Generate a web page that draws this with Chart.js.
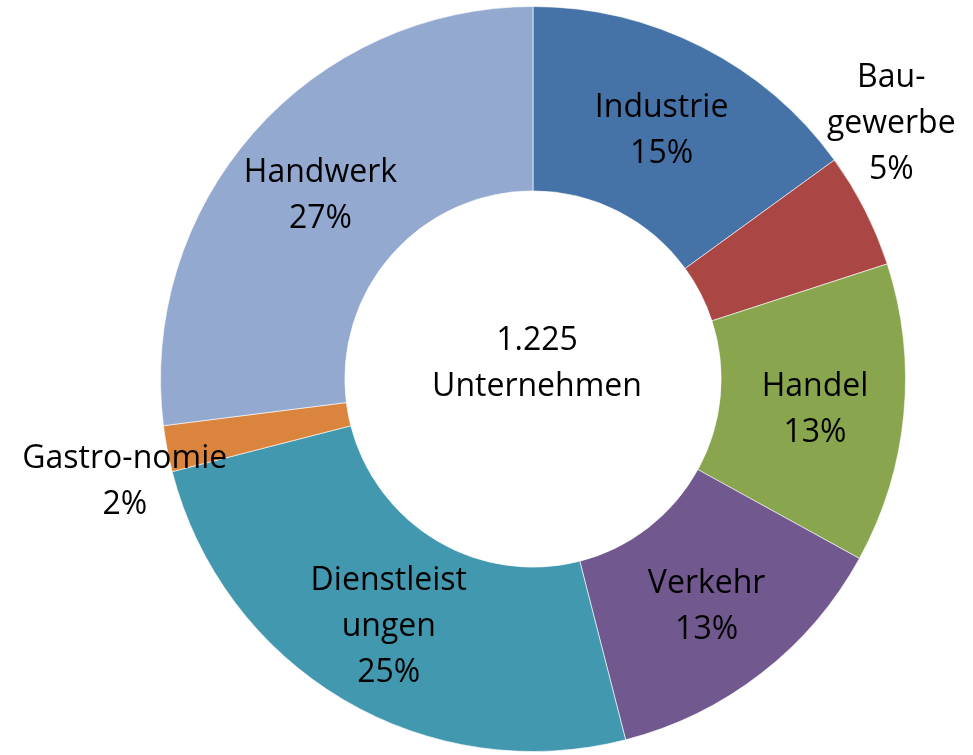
<!DOCTYPE html>
<html>
<head>
  <meta charset="utf-8">
  <title>Unternehmen nach Branchen</title>
  <script src="https://cdn.jsdelivr.net/npm/chart.js"></script>
  <style>
    html, body { margin: 0; padding: 0; background: #fff; }
    .chart-container { width: 973px; height: 755px; }
  </style>
</head>
<body>
  <div class="chart-container">
    <canvas id="donut"></canvas>
  </div>

  <script>
    // categories and shares (%)
    const branchen = ["Industrie", "Baugewerbe", "Handel", "Verkehr", "Dienstleistungen", "Gastronomie", "Handwerk"];
    const anteile = [15, 5, 13, 13, 25, 2, 27];
    // label text as drawn in the original (with its odd line breaks)
    const labelLines = [
      ["Industrie"],
      ["Bau-", "gewerbe"],
      ["Handel"],
      ["Verkehr"],
      ["Dienstleist", "ungen"],
      ["Gastro-nomie"],
      ["Handwerk"]
    ];
    const centerLines = ["1.225", "Unternehmen"];
    const farben = ["#4572A7", "#AA4643", "#89A54E", "#71588F", "#4198AF", "#DB843D", "#93A9CF"];

    const FONT = '32px "Open Sans", sans-serif';
    const LINE_H = 46;

    // draws the slice labels and the text in the hole
    const labelPlugin = {
      id: 'sliceLabels',
      afterDatasetsDraw(chart, args, opts) {
        const ctx = chart.ctx;
        const meta = chart.getDatasetMeta(0);
        ctx.save();
        ctx.font = FONT;
        ctx.fillStyle = '#000';
        ctx.textAlign = 'center';
        ctx.textBaseline = 'middle';
        meta.data.forEach((arc, i) => {
          const p = arc.getProps(['x', 'y', 'startAngle', 'endAngle', 'innerRadius', 'outerRadius'], true);
          const out = opts.outside[i];
          let ang = (p.startAngle + p.endAngle) / 2;
          let r = (p.innerRadius + p.outerRadius) / 2 + 3;
          let dy = 4;
          if (out) {
            ang += out.dAngle * Math.PI / 180;
            r = p.outerRadius * out.factor;
            dy = 0;
          }
          const cx = p.x + Math.cos(ang) * r;
          const cy = p.y + Math.sin(ang) * r + dy;
          const lines = labelLines[i].concat([anteile[i] + '%']);
          const top = cy - (lines.length - 1) * LINE_H / 2;
          lines.forEach((t, k) => ctx.fillText(t, cx, top + k * LINE_H));
        });
        // centre text
        const c = meta.data[0];
        const cx = c.x + 4, cy = c.y - 15;
        const top = cy - (centerLines.length - 1) * LINE_H / 2;
        centerLines.forEach((t, k) => ctx.fillText(t, cx, top + k * LINE_H));
        ctx.restore();
      }
    };

    const ctxDonut = document.getElementById('donut').getContext('2d');
    const donutChart = new Chart(ctxDonut, {
      type: 'doughnut',
      data: {
        labels: branchen,
        datasets: [{
          data: anteile,
          backgroundColor: farben,
          borderColor: 'rgba(255,255,255,0.6)',
          borderWidth: 1
        }]
      },
      options: {
        responsive: true,
        maintainAspectRatio: false,
        animation: false,
        cutout: '50.5%',
        layout: {
          padding: { left: 160, right: 67, top: 6, bottom: 3 }
        },
        plugins: {
          legend: { display: false },
          tooltip: { enabled: false },
          sliceLabels: {
            // Bau-gewerbe and Gastro-nomie sit outside the ring
            outside: {
              1: { factor: 1.18, dAngle: -8.4 },
              5: { factor: 1.13, dAngle: -3.3 }
            }
          }
        }
      },
      plugins: [labelPlugin]
    });
  </script>
</body>
</html>
